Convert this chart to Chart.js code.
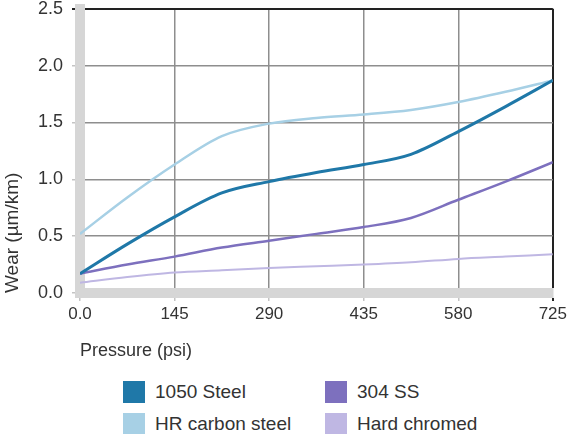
<!DOCTYPE html>
<html lang="en">
<head>
  <meta charset="UTF-8" />
  <title>Wear vs Pressure</title>
  <script src="https://cdn.jsdelivr.net/npm/chart.js"></script>
  <style>
    body { margin: 0; background: #fff; font-family: "Liberation Sans", Arial, sans-serif; }
    #wrap { position: relative; width: 570px; height: 434px; overflow: hidden; }
    /* shifted up so the plot top sits at ~7px like the original */
    #chartBox { position: absolute; left: 0; top: -11px; width: 570px; height: 381px; }
    .key { position: absolute; font-size: 19px; color: #333; line-height: 22px; white-space: nowrap; }
    .key span { display: inline-block; width: 22px; height: 22px; vertical-align: top; margin-right: 10px; }
  </style>
</head>
<body>
  <div id="wrap">
    <div id="chartBox"><canvas id="wearChart"></canvas></div>
    <div id="legend"></div>
  </div>

  <script>
    // pressure (psi) sample points
    const pressure = [0, 72.5, 145, 217.5, 290, 362.5, 435, 507.5, 580, 652.5, 725];
    const xTickLabels = ['0.0', '145', '290', '435', '580', '725'];

    // wear (µm/km)
    const steel1050 = [0.17, 0.43, 0.67, 0.88, 0.98, 1.06, 1.13, 1.22, 1.42, 1.64, 1.87];
    const hrCarbon  = [0.52, 0.84, 1.13, 1.38, 1.49, 1.54, 1.57, 1.61, 1.68, 1.77, 1.87];
    const ss304     = [0.17, 0.25, 0.32, 0.40, 0.46, 0.52, 0.58, 0.66, 0.82, 0.98, 1.15];
    const hardChrom = [0.09, 0.14, 0.18, 0.20, 0.22, 0.235, 0.25, 0.27, 0.30, 0.32, 0.34];

    const seriesNames = ['1050 Steel', 'HR carbon steel', '304 SS', 'Hard chromed'];
    const seriesData = [steel1050, hrCarbon, ss304, hardChrom];
    const seriesColors = ['#1f78a8', '#a7d0e5', '#7d70be', '#bfb7e3'];
    const lineWidths = [3, 2.5, 2.5, 2];

    const txt = '#333';
    const gridGray = '#8e8e8e';
    const edge = '#222';

    const datasets = seriesNames.map((name, i) => ({
      label: name,
      data: pressure.map((p, j) => ({ x: p, y: seriesData[i][j] })),
      borderColor: seriesColors[i],
      backgroundColor: seriesColors[i],
      borderWidth: lineWidths[i],
      pointRadius: 0,
      tension: 0.4,
      cubicInterpolationMode: 'monotone',
      fill: false
    }));

    new Chart(document.getElementById('wearChart'), {
      type: 'line',
      data: { datasets },
      options: {
        responsive: true,
        maintainAspectRatio: false,
        animation: false,
        layout: { padding: { top: 0, right: 17, bottom: 0, left: 0 } },
        plugins: { legend: { display: false }, tooltip: { enabled: false } },
        scales: {
          x: {
            type: 'linear',
            min: 0,
            max: 725,
            afterFit: s => { s.height = 77; },
            afterBuildTicks: s => { s.ticks = [0, 145, 290, 435, 580, 725].map(v => ({ value: v })); },
            ticks: {
              color: txt,
              font: { family: 'Liberation Sans', size: 17 },
              padding: 3,
              maxRotation: 0,
              callback: (v, i) => xTickLabels[i]
            },
            grid: {
              color: c => (c.tick && c.tick.value === 725 ? edge : gridGray),
              lineWidth: c => (c.tick && c.tick.value === 725 ? 2 : 1.5),
              tickColor: c => (c.tick && c.tick.value === 725 ? edge : '#c4c4c4'),
              tickLength: 8
            },
            border: { color: '#d6d6d6', width: 10 },
            title: {
              display: true,
              text: 'Pressure (psi)',
              align: 'start',
              color: txt,
              font: { family: 'Liberation Sans', size: 18 },
              padding: { top: 0, bottom: 8 }
            }
          },
          y: {
            min: 0,
            max: 2.5,
            afterFit: s => { s.width = 80; },
            ticks: {
              stepSize: 0.5,
              color: txt,
              font: { family: 'Liberation Sans', size: 18 },
              padding: 9,
              callback: v => Number(v).toFixed(1)
            },
            grid: {
              color: c => (c.tick && c.tick.value === 2.5 ? edge : gridGray),
              lineWidth: c => (c.tick && c.tick.value === 2.5 ? 2 : 1.5),
              tickColor: c => (c.tick && c.tick.value === 2.5 ? edge : '#c4c4c4'),
              tickLength: 8
            },
            border: { color: '#d6d6d6', width: 10 },
            title: {
              display: true,
              text: 'Wear (µm/km)',
              align: 'start',
              color: txt,
              font: { family: 'Liberation Sans', size: 19 },
              padding: { top: 1, bottom: 0 }
            }
          }
        }
      }
    });

    // legend, two columns
    const legend = document.getElementById('legend');
    const keyPos = [[123, 381], [123, 413], [325, 381], [325, 413]];
    seriesNames.forEach((name, i) => {
      const d = document.createElement('div');
      d.className = 'key';
      d.style.left = keyPos[i][0] + 'px';
      d.style.top = keyPos[i][1] + 'px';
      d.innerHTML = `<span style="background:${seriesColors[i]}"></span>${name}`;
      legend.appendChild(d);
    });
  </script>
</body>
</html>
